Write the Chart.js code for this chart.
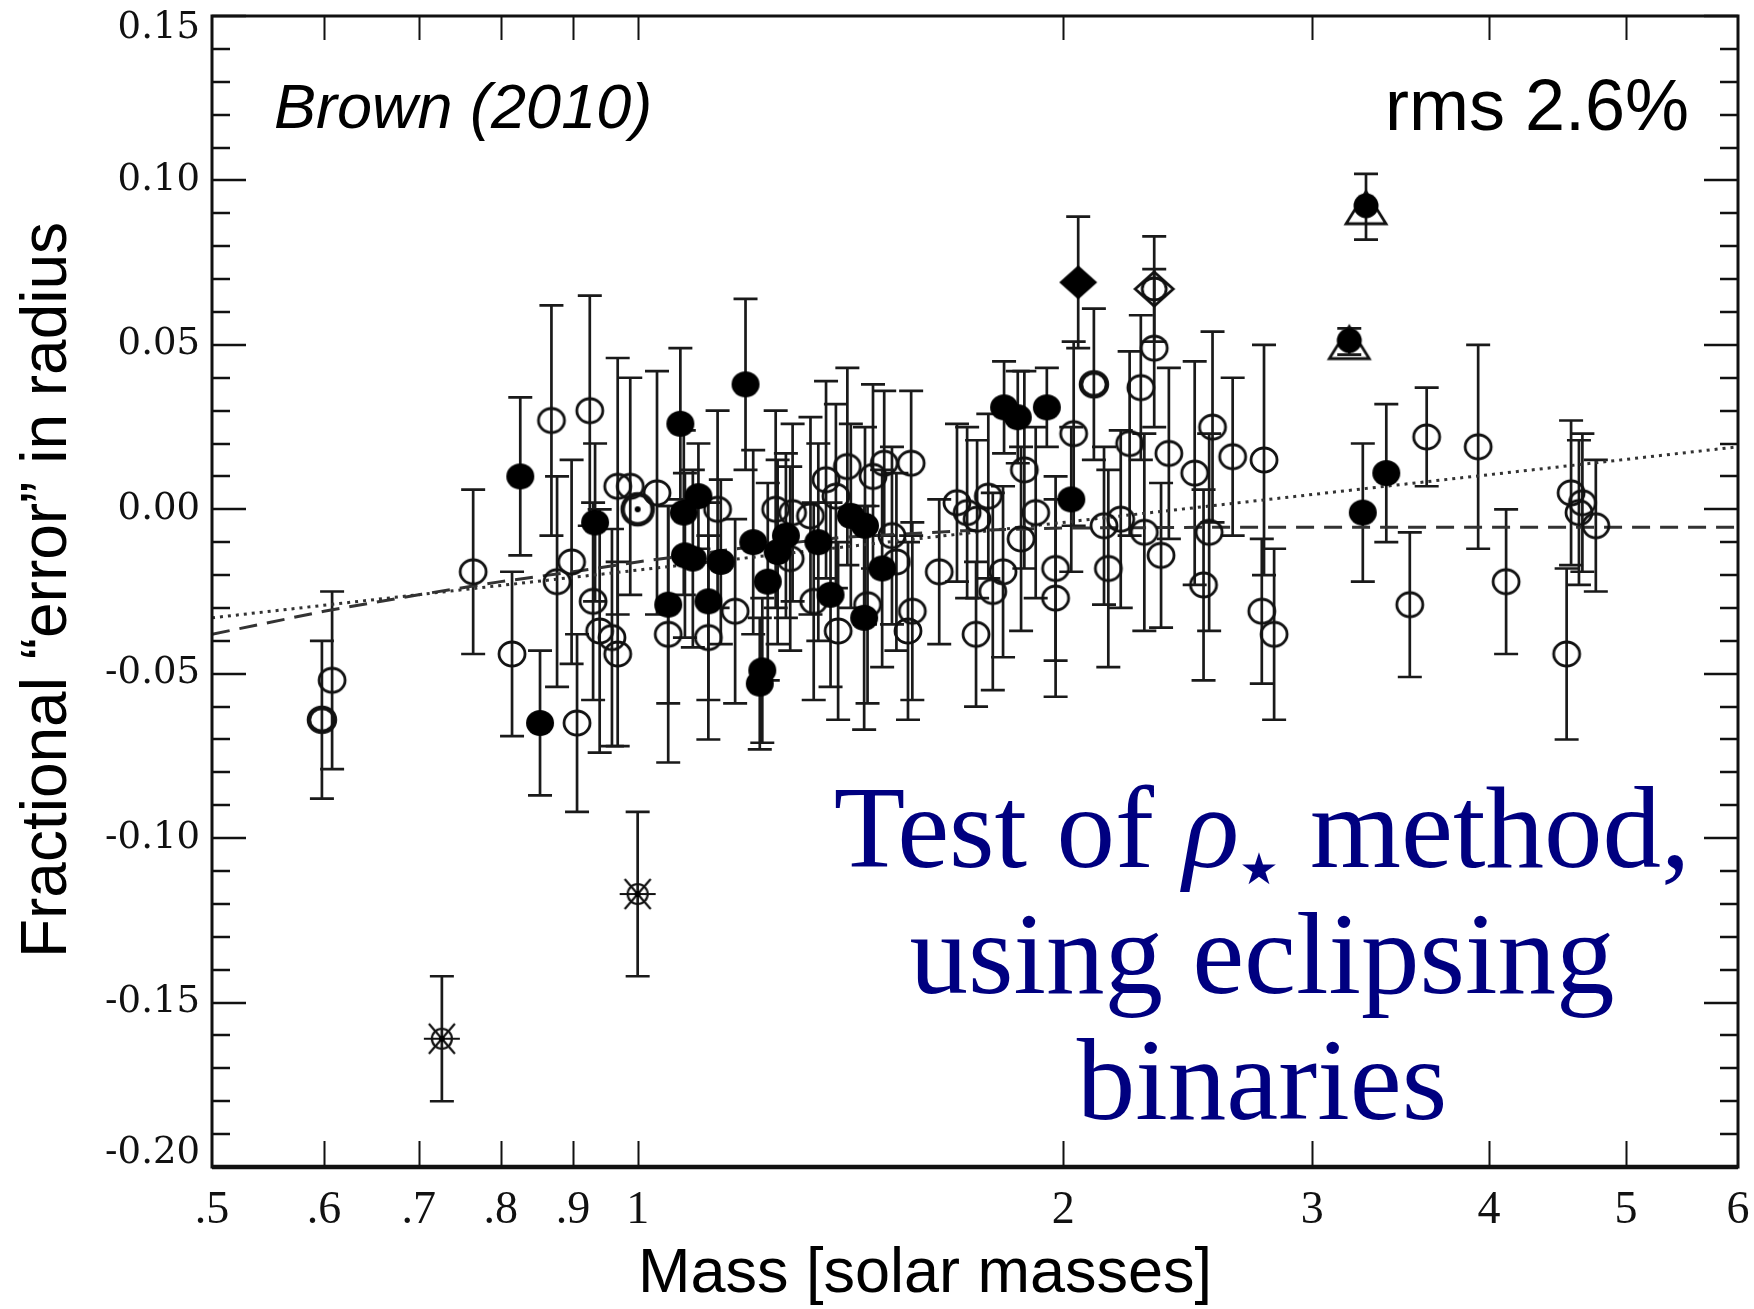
<!DOCTYPE html>
<html>
<head>
<meta charset="utf-8">
<script src="https://cdn.jsdelivr.net/npm/chart.js@4.4.0/dist/chart.umd.min.js"></script>
<style>
  html, body { margin: 0; padding: 0; background: #fff; }
</style>
</head>
<body>
<canvas id="mycanvas" width="1754" height="1309"></canvas>
<script>
// axis ticks
const xTickValues = [0.5, 0.6, 0.7, 0.8, 0.9, 1, 2, 3, 4, 5, 6];
const xTickLabels = [".5", ".6", ".7", ".8", ".9", "1", "2", "3", "4", "5", "6"];
const yTickValues = [0.15, 0.10, 0.05, 0.00, -0.05, -0.10, -0.15, -0.20];
const yTickLabels = ["0.15", "0.10", "0.05", "0.00", "-0.05", "-0.10", "-0.15", "-0.20"];

// open circles: mass, fractional error, error bar half-length
const openMass = [0.608, 0.765, 0.815, 0.869, 0.877, 0.898, 0.906, 0.925, 0.930, 0.940, 0.959, 0.968, 0.968, 0.988,
  1.032, 1.051, 1.122, 1.139, 1.172, 1.252, 1.282, 1.287, 1.325, 1.332, 1.359, 1.381, 1.386, 1.407, 1.454, 1.467,
  1.494, 1.513, 1.524, 1.553, 1.561, 1.564, 1.634, 1.682, 1.710, 1.735, 1.738, 1.770, 1.783, 1.813, 1.867, 1.877,
  1.912, 1.975, 1.975, 2.034, 2.137, 2.152, 2.196, 2.228, 2.269, 2.282, 2.319, 2.345, 2.375, 2.477, 2.513, 2.536,
  2.550, 2.635, 2.763, 2.773, 2.819, 3.516, 3.614, 3.930, 4.113, 4.539, 4.572, 4.631, 4.657, 4.760];
const openFrac = [-0.052, -0.019, -0.044, 0.027, -0.022, -0.016, -0.065, 0.030, -0.028, -0.037, -0.039, -0.044, 0.007, 0.007,
  0.005, -0.038, -0.039, 0.000, -0.031, 0.000, -0.015, -0.001, -0.002, -0.028, 0.009, 0.004, -0.037, 0.013, -0.029, 0.010,
  0.014, -0.008, -0.016, -0.037, 0.014, -0.031, -0.019, 0.002, -0.001, -0.038, -0.003, 0.004, -0.025, -0.019, -0.009, 0.012,
  -0.001, -0.018, -0.027, 0.023, -0.005, -0.018, -0.003, 0.020, 0.037, -0.007, 0.049, -0.014, 0.017, 0.011, -0.023, -0.007,
  0.025, 0.016, -0.031, 0.015, -0.038, -0.029, 0.022, 0.019, -0.022, -0.044, 0.005, -0.001, 0.002, -0.005];
const openErr = [0.027, 0.025, 0.025, 0.035, 0.032, 0.031, 0.027, 0.035, 0.030, 0.037, 0.033, 0.028, 0.039, 0.033,
  0.037, 0.039, 0.031, 0.030, 0.028, 0.030, 0.028, 0.027, 0.030, 0.030, 0.030, 0.028, 0.027, 0.030, 0.030, 0.028,
  0.022, 0.027, 0.027, 0.027, 0.022, 0.027, 0.022, 0.024, 0.026, 0.022, 0.024, 0.025, 0.030, 0.026, 0.028, 0.030,
  0.026, 0.028, 0.030, 0.028, 0.024, 0.030, 0.027, 0.028, 0.022, 0.030, 0.024, 0.022, 0.026, 0.034, 0.029, 0.030,
  0.029, 0.024, 0.022, 0.035, 0.026, 0.022, 0.015, 0.031, 0.022, 0.026, 0.022, 0.022, 0.021, 0.020];

// heavy open circles
const boldMass = [0.598, 2.102];
const boldFrac = [-0.064, 0.038];
const boldErr = [0.024, 0.023];

// filled circles
const filledMass = [0.826, 0.853, 0.933, 1.051, 1.072, 1.078, 1.080, 1.094, 1.104, 1.122, 1.145, 1.192, 1.207, 1.220,
  1.225, 1.236, 1.256, 1.273, 1.342, 1.369, 1.415, 1.446, 1.448, 1.489, 1.816, 1.857, 1.947, 2.026, 3.257, 3.384];
const filledFrac = [0.010, -0.065, -0.004, -0.029, 0.026, -0.001, -0.014, -0.015, 0.004, -0.028, -0.016, 0.038, -0.010, -0.053,
  -0.049, -0.022, -0.013, -0.008, -0.010, -0.026, -0.002, -0.033, -0.005, -0.018, 0.031, 0.028, 0.031, 0.003, -0.001, 0.011];
const filledErr = [0.024, 0.022, 0.024, 0.030, 0.023, 0.025, 0.025, 0.027, 0.016, 0.030, 0.025, 0.026, 0.028, 0.020,
  0.022, 0.030, 0.028, 0.025, 0.030, 0.028, 0.028, 0.034, 0.030, 0.030, 0.014, 0.014, 0.012, 0.022, 0.021, 0.021];

// special symbols
const triMass = [3.186, 3.274];
const triFrac = [0.051, 0.092];
const triErr = [0.004, 0.010];
const diamondMass = [2.049];
const diamondFrac = [0.069];
const diamondErr = [0.020];
const openDiamondMass = [2.319];
const openDiamondFrac = [0.067];
const openDiamondErr = [0.016];
const sunMass = [1.000];
const sunFrac = [0.000];
const starMass = [0.727, 1.000];
const starFrac = [-0.161, -0.117];
const starErr = [0.019, 0.025];

// fitted lines
const fitMass = [0.5, 6];
const fitFrac = [-0.033, 0.019];
const modelMass = [0.5, 0.6, 0.7, 0.8, 0.9, 1.0, 1.2, 1.4, 1.7, 2.0, 2.5, 6];
const modelFrac = [-0.038, -0.031, -0.026, -0.022, -0.019, -0.016, -0.0115, -0.0085, -0.0065, -0.0057, -0.0055, -0.0055];

function toPoints(xs, ys) {
  return xs.map((m, i) => ({ x: m, y: ys[i] }));
}

function symbol(kind) {
  const c = document.createElement('canvas');
  c.width = 50; c.height = 50;
  const g = c.getContext('2d');
  g.translate(25, 25);
  g.strokeStyle = '#111';
  g.fillStyle = '#000';
  g.lineWidth = 2.8;
  if (kind === 'open' || kind === 'bold') {
    g.lineWidth = kind === 'bold' ? 4.5 : 2.8;
    g.beginPath(); g.ellipse(0, 0, 13, 12, 0, 0, Math.PI * 2); g.stroke();
  } else if (kind === 'filled') {
    g.beginPath(); g.ellipse(0, 0, 14, 13, 0, 0, Math.PI * 2); g.fill();
  } else if (kind === 'sun') {
    g.lineWidth = 4.5;
    g.beginPath(); g.arc(0, 0, 15, 0, Math.PI * 2); g.stroke();
    g.beginPath(); g.arc(0, 0, 3, 0, Math.PI * 2); g.fill();
  } else if (kind === 'diamond') {
    g.beginPath(); g.moveTo(0, -17); g.lineTo(19, 0); g.lineTo(0, 17); g.lineTo(-19, 0); g.closePath(); g.fill();
  } else if (kind === 'openDiamond') {
    g.beginPath(); g.moveTo(0, -17); g.lineTo(19, 0); g.lineTo(0, 17); g.lineTo(-19, 0); g.closePath(); g.stroke();
    g.beginPath(); g.ellipse(0, 0, 12, 11, 0, 0, Math.PI * 2); g.stroke();
  } else if (kind === 'tri') {
    g.beginPath(); g.moveTo(0, -15); g.lineTo(20, 17); g.lineTo(-20, 17); g.closePath(); g.stroke();
    g.beginPath(); g.arc(0, -1, 12.5, 0, Math.PI * 2); g.fill();
  } else if (kind === 'star') {
    g.lineWidth = 2.2;
    g.beginPath(); g.arc(0, 0, 10, 0, Math.PI * 2); g.stroke();
    g.beginPath();
    g.moveTo(-18, 0); g.lineTo(18, 0);
    g.moveTo(-13, -15); g.lineTo(13, 15);
    g.moveTo(-13, 15); g.lineTo(13, -15);
    g.stroke();
    g.beginPath(); g.arc(0, 0, 3, 0, Math.PI * 2); g.fill();
  }
  return c;
}

const errorBars = {
  id: 'errorBars',
  beforeDatasetsDraw(chart) {
    const { ctx, chartArea: a, scales: { x, y } } = chart;
    ctx.save();
    ctx.beginPath(); ctx.rect(a.left, a.top, a.right - a.left, a.bottom - a.top); ctx.clip();
    ctx.strokeStyle = '#1a1a1a';
    ctx.lineWidth = 2.7;
    chart.data.datasets.forEach(ds => {
      if (!ds.errors) return;
      ds.data.forEach((p, i) => {
        const e = ds.errors[i];
        if (!e) return;
        const px = x.getPixelForValue(p.x);
        const top = y.getPixelForValue(p.y + e);
        const bot = y.getPixelForValue(p.y - e);
        ctx.beginPath();
        ctx.moveTo(px, top); ctx.lineTo(px, bot);
        ctx.moveTo(px - 12, top); ctx.lineTo(px + 12, top);
        ctx.moveTo(px - 12, bot); ctx.lineTo(px + 12, bot);
        ctx.stroke();
      });
    });
    ctx.restore();
  }
};

const frame = {
  id: 'frame',
  afterDraw(chart) {
    const { ctx, chartArea: a, scales: { x, y } } = chart;
    ctx.save();
    ctx.strokeStyle = '#111';
    ctx.lineWidth = 2.5;
    // y ticks on both sides, every 0.01
    for (let k = -20; k <= 15; k++) {
      const py = Math.round(y.getPixelForValue(k / 100));
      const len = k % 5 === 0 ? 34 : 18;
      ctx.beginPath();
      ctx.moveTo(a.left, py); ctx.lineTo(a.left + len, py);
      ctx.moveTo(a.right, py); ctx.lineTo(a.right - len, py);
      ctx.stroke();
    }
    // x ticks at bottom and top
    ctx.lineWidth = 2;
    xTickValues.slice(1, -1).forEach(v => {
      const px = Math.round(x.getPixelForValue(v)) + 0.5;
      ctx.beginPath();
      ctx.moveTo(px, a.bottom); ctx.lineTo(px, a.bottom - 26);
      ctx.moveTo(px, a.top); ctx.lineTo(px, a.top + 24);
      ctx.stroke();
    });
    ctx.lineWidth = 3;
    ctx.strokeRect(a.left, a.top, a.right - a.left, a.bottom - a.top);
    ctx.lineWidth = 4.5;
    ctx.beginPath(); ctx.moveTo(a.left, a.bottom); ctx.lineTo(a.right, a.bottom); ctx.stroke();

    // y tick labels, end labels kept inside the frame height
    ctx.fillStyle = '#111';
    ctx.font = '37px "DejaVu Serif"';
    ctx.textAlign = 'right';
    ctx.textBaseline = 'middle';
    yTickValues.forEach((v, i) => {
      const py = Math.min(Math.max(y.getPixelForValue(v), a.top + 12), a.bottom - 14);
      ctx.fillText(yTickLabels[i], a.left - 12, py);
    });

    // texts
    ctx.fillStyle = '#000';
    ctx.textBaseline = 'alphabetic';
    ctx.font = 'italic 63px "Liberation Sans"';
    ctx.textAlign = 'left';
    ctx.fillText('Brown (2010)', 274, 128);
    ctx.font = '72px "Liberation Sans"';
    ctx.textAlign = 'right';
    ctx.fillText('rms 2.6%', 1689, 130);

    ctx.font = '63px "Liberation Sans"';
    ctx.textAlign = 'center';
    ctx.fillText('Mass [solar masses]', 925, 1292);
    ctx.save();
    ctx.translate(66, 590);
    ctx.rotate(-Math.PI / 2);
    ctx.font = '64px "Liberation Sans"';
    ctx.fillText('Fractional \u201Cerror\u201D in radius', 0, 0);
    ctx.restore();

    // navy caption
    ctx.fillStyle = '#000080';
    const big = '117px "Liberation Serif"';
    const cx = 1262;
    const p1 = 'Test of ', p3 = ' method,';
    ctx.font = big;
    const w1 = ctx.measureText(p1).width, w3 = ctx.measureText(p3).width;
    ctx.font = 'italic ' + big;
    const w2 = ctx.measureText('\u03C1').width;
    ctx.font = '44px "DejaVu Sans"';
    const wS = ctx.measureText('\u2605').width + 2;
    let sx = cx - (w1 + w2 + wS + w3) / 2;
    ctx.textAlign = 'left';
    ctx.font = big; ctx.fillText(p1, sx, 867); sx += w1;
    ctx.font = 'italic ' + big; ctx.fillText('\u03C1', sx, 867); sx += w2;
    ctx.font = '44px "DejaVu Sans"'; ctx.fillText('\u2605', sx, 884); sx += wS;
    ctx.font = big; ctx.fillText(p3, sx, 867);
    ctx.textAlign = 'center';
    ctx.fillText('using eclipsing', cx, 993);
    ctx.fillText('binaries', cx, 1119);
    ctx.restore();
  }
};

function marks(mass, frac, errs, kind) {
  return {
    data: toPoints(mass, frac),
    errors: errs,
    pointStyle: symbol(kind),
    pointRadius: 13,
    showLine: false
  };
}

new Chart(document.getElementById('mycanvas'), {
  type: 'scatter',
  data: {
    datasets: [
      marks(triMass, triFrac, triErr, 'tri'),
      marks(diamondMass, diamondFrac, diamondErr, 'diamond'),
      marks(openDiamondMass, openDiamondFrac, openDiamondErr, 'openDiamond'),
      marks(sunMass, sunFrac, [0], 'sun'),
      marks(starMass, starFrac, starErr, 'star'),
      marks(filledMass, filledFrac, filledErr, 'filled'),
      marks(boldMass, boldFrac, boldErr, 'bold'),
      marks(openMass, openFrac, openErr, 'open'),
      {
        type: 'line',
        data: toPoints(fitMass, fitFrac),
        showLine: true,
        borderColor: '#333',
        borderWidth: 3,
        borderDash: [3, 5],
        pointRadius: 0,
        fill: false
      },
      {
        type: 'line',
        data: toPoints(modelMass, modelFrac),
        showLine: true,
        borderColor: '#333',
        borderWidth: 3,
        borderDash: [18, 10],
        pointRadius: 0,
        fill: false
      }
    ]
  },
  options: {
    responsive: false,
    animation: false,
    devicePixelRatio: 1,
    layout: { padding: { top: 16, right: 16, bottom: 0, left: 0 } },
    plugins: { legend: { display: false }, tooltip: { enabled: false } },
    scales: {
      x: {
        type: 'logarithmic',
        min: 0.5,
        max: 6,
        grid: { display: false, drawTicks: false },
        border: { display: false },
        afterBuildTicks: s => { s.ticks = xTickValues.map(v => ({ value: v })); },
        afterFit: s => { s.height = 142; s.paddingLeft = 0; s.paddingRight = 0; },
        ticks: {
          autoSkip: false,
          maxRotation: 0,
          padding: 16,
          color: '#111',
          font: { family: 'Liberation Serif', size: 46 },
          callback: (v, i) => xTickLabels[i]
        }
      },
      y: {
        type: 'linear',
        min: -0.2,
        max: 0.15,
        grid: { display: false, drawTicks: false },
        border: { display: false },
        afterBuildTicks: s => { s.ticks = yTickValues.map(v => ({ value: v })); },
        afterFit: s => { s.width = 212; s.paddingTop = 0; s.paddingBottom = 0; },
        ticks: { display: false }
      }
    }
  },
  plugins: [errorBars, frame]
});
</script>
</body>
</html>
